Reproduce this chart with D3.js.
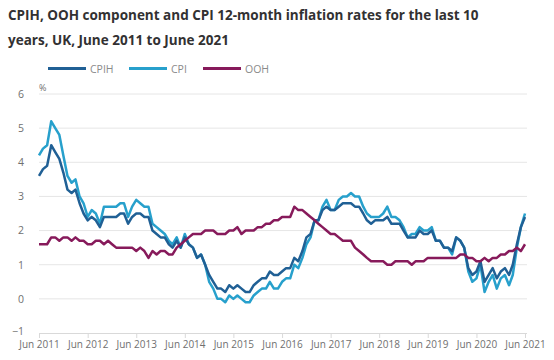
<!DOCTYPE html>
<html>
<head>
<meta charset="utf-8">
<script src="https://cdn.jsdelivr.net/npm/d3@7"></script>
<style>
  html, body { margin: 0; padding: 0; background: #fff; }
  svg { display: block; font-family: "Open Sans", sans-serif; }
</style>
</head>
<body>
<svg id="chart" width="554" height="360"></svg>
<script>
// ---- Data (monthly, Jun 2011 to Jun 2021) ----
const startMonth = "2011-06";
const endMonth = "2021-06";
const cpih = [
  3.6,3.8,3.9,4.5,4.3,4.1,3.7,
  3.2,3.1,3.2,2.8,2.5,2.3,2.4,2.3,2.1,2.4,2.4,2.4,
  2.4,2.5,2.5,2.2,2.4,2.5,2.5,2.4,2.4,2.0,1.9,1.8,
  1.8,1.6,1.5,1.7,1.5,1.8,1.6,1.5,1.2,1.3,1.0,0.7,
  0.5,0.3,0.3,0.2,0.4,0.3,0.4,0.3,0.2,0.2,0.4,0.5,
  0.6,0.6,0.8,0.7,0.7,0.8,0.9,0.9,1.2,1.1,1.4,1.8,
  1.9,2.3,2.3,2.6,2.7,2.6,2.6,2.7,2.8,2.8,2.8,2.7,
  2.7,2.5,2.3,2.2,2.3,2.3,2.3,2.4,2.2,2.2,2.2,2.0,
  1.8,1.8,1.8,2.0,1.9,1.9,2.0,1.7,1.7,1.5,1.5,1.4,
  1.8,1.7,1.5,0.9,0.7,0.8,1.1,0.5,0.7,0.9,0.6,0.8,
  0.9,0.7,1.0,1.6,2.1,2.4
];
const cpi = [
  4.2,4.4,4.5,5.2,5.0,4.8,4.2,
  3.6,3.4,3.5,3.0,2.8,2.4,2.6,2.5,2.2,2.7,2.7,2.7,
  2.7,2.8,2.8,2.4,2.7,2.9,2.8,2.7,2.7,2.2,2.1,2.0,
  1.9,1.7,1.6,1.8,1.5,1.9,1.6,1.5,1.2,1.3,1.0,0.5,
  0.3,0.0,0.0,-0.1,0.1,0.0,0.1,0.0,-0.1,-0.1,0.1,0.2,
  0.3,0.3,0.5,0.3,0.3,0.5,0.6,0.6,1.0,0.9,1.2,1.6,
  1.8,2.3,2.3,2.7,2.9,2.6,2.6,2.9,3.0,3.0,3.1,3.0,
  3.0,2.7,2.5,2.4,2.4,2.4,2.5,2.7,2.4,2.4,2.3,2.1,
  1.8,1.9,1.9,2.1,2.0,2.0,2.1,1.7,1.7,1.5,1.5,1.3,
  1.8,1.7,1.5,0.8,0.5,0.6,1.0,0.2,0.5,0.7,0.3,0.6,
  0.7,0.4,0.7,1.5,2.1,2.5
];
const ooh = [
  1.6,1.6,1.6,1.8,1.8,1.7,1.8,
  1.8,1.7,1.8,1.7,1.7,1.6,1.6,1.7,1.7,1.6,1.7,1.6,
  1.5,1.5,1.5,1.5,1.5,1.4,1.5,1.4,1.2,1.4,1.3,1.4,
  1.4,1.3,1.3,1.5,1.6,1.7,1.8,1.9,1.9,1.9,2.0,2.0,
  2.0,1.9,1.9,1.9,2.0,2.0,2.1,1.9,2.0,2.0,2.0,2.1,
  2.1,2.2,2.2,2.3,2.3,2.4,2.4,2.4,2.7,2.6,2.6,2.5,
  2.4,2.3,2.2,2.1,2.0,1.9,1.9,1.8,1.7,1.7,1.7,1.5,
  1.4,1.3,1.2,1.1,1.1,1.1,1.1,1.0,1.0,1.1,1.1,1.1,
  1.1,1.0,1.1,1.1,1.1,1.2,1.2,1.2,1.2,1.2,1.2,1.2,
  1.2,1.3,1.3,1.2,1.2,1.1,1.1,1.2,1.1,1.2,1.2,1.3,
  1.3,1.4,1.4,1.5,1.4,1.6
];
const yTicks = [-1,0,1,2,3,4,5,6];
const xTickLabels = ["Jun 2011","Jun 2012","Jun 2013","Jun 2014","Jun 2015","Jun 2016","Jun 2017","Jun 2018","Jun 2019","Jun 2020","Jun 2021"];
const titleLines = ["CPIH, OOH component and CPI 12-month inflation rates for the last 10", "years, UK, June 2011 to June 2021"];
const seriesNames = ["CPIH","CPI","OOH"];
const seriesColors = ["#206095","#27a0cc","#871a5b"];

// ---- Build ----
const parseMonth = d3.timeParse("%Y-%m");
const t0 = parseMonth(startMonth);
const months = d3.range(cpih.length).map(i => d3.timeMonth.offset(t0, i));
const seriesData = [cpih, cpi, ooh];

const svg = d3.select("#chart");
const pLeft = 39, pRight = 525, pTop = 94, pBottom = 333;

const x = d3.scaleTime().domain([t0, parseMonth(endMonth)]).range([pLeft, pRight]);
const y = d3.scaleLinear().domain([-1, 6]).range([pBottom, pTop]);

// Title
svg.append("g").selectAll("text").data(titleLines).join("text")
  .attr("x", 8).attr("y", (d,i) => 20 + i*25)
  .attr("fill", "#323132").attr("font-size", 13.5).attr("font-weight", 700)
  .text(d => d);

// Legend
const lg = svg.append("g");
const legX = [48, 129, 203];
seriesNames.forEach((n,i) => {
  lg.append("line").attr("x1", legX[i]).attr("x2", legX[i]+38).attr("y1", 68.5).attr("y2", 68.5)
    .attr("stroke", seriesColors[i]).attr("stroke-width", 3);
  lg.append("text").attr("x", legX[i]+42).attr("y", 72.5).attr("fill", "#8a8a8a").attr("font-size", 10.5).text(n);
});

// Gridlines
svg.append("g").selectAll("line").data(yTicks.filter(d => d > -1)).join("line")
  .attr("x1", pLeft).attr("x2", pRight + 2)
  .attr("y1", d => y(d)).attr("y2", d => y(d))
  .attr("stroke", "#e6e6e6").attr("stroke-width", 1);

// Y axis
const yAxis = svg.append("g").attr("transform", `translate(${pLeft},0)`)
  .call(d3.axisLeft(y).tickValues(yTicks).tickSize(0).tickPadding(15).tickFormat(d3.format("d")));
yAxis.select(".domain").remove();
yAxis.selectAll("text").attr("fill", "#707070").attr("font-size", 10.5).attr("font-family", "Open Sans, sans-serif");
yAxis.selectAll(".tick").filter(d => d === -1).select("text").attr("dy", "0.1em");

svg.append("text").attr("x", 39).attr("y", 91).attr("fill", "#707070").attr("font-size", 9).text("%");

// X axis
const xTickDates = xTickLabels.map(s => d3.timeParse("%b %Y")(s));
const xAxis = svg.append("g").attr("transform", `translate(0,${pBottom})`)
  .call(d3.axisBottom(x).tickValues(xTickDates).tickSize(5).tickPadding(3).tickFormat((d,i) => xTickLabels[i]));
xAxis.select(".domain").attr("stroke", "#d9d9d9").attr("d", `M${pLeft},0.5H${pRight+2}`);
xAxis.selectAll(".tick line").attr("stroke", "#d9d9d9");
xAxis.selectAll("text").attr("fill", "#707070").attr("font-size", 10).attr("font-family", "Open Sans, sans-serif");

// Lines
const line = d3.line().x((d,i) => x(months[i])).y(d => y(d));
[1,0,2].forEach(k => {
  svg.append("path").datum(seriesData[k])
    .attr("fill", "none").attr("stroke", seriesColors[k]).attr("stroke-width", 2.5)
    .attr("stroke-linejoin", "round").attr("d", line);
});
</script>
</body>
</html>
